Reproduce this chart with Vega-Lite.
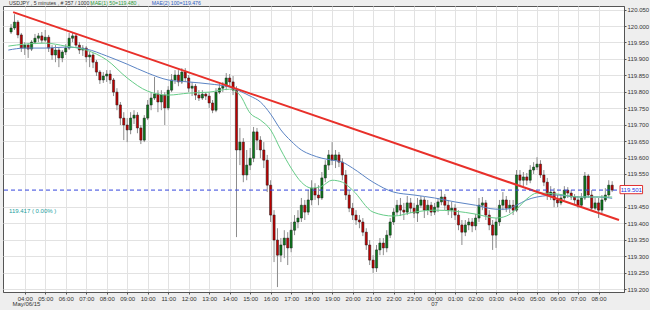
{
"$schema": "https://vega.github.io/schema/vega-lite/v6.json",
"width": 621, "height": 286,
"autosize": "none",
"padding": {"left": 3, "top": 6, "right": 26, "bottom": 18},
"background": "#eeeeee",
"config": {
  "view": {"fill": "#ffffff", "stroke": "#555555", "strokeWidth": 1},
  "font": "Liberation Sans",
  "axis": {"labelFont": "Liberation Sans", "labelFontSize": 6, "labelColor": "#333333", "gridColor": "#e2e2e2", "gridWidth": 1, "domainColor": "#555555", "tickColor": "#555555", "tickSize": 2}
},
"resolve": {"axis": {"x": "independent", "y": "independent"}},
"datasets": {
"candles": [
{"t":"2015-05-06T03:20","o":119.982,"h":120.006,"l":119.976,"c":119.994},
{"t":"2015-05-06T03:30","o":119.994,"h":120.036,"l":119.988,"c":120.012},
{"t":"2015-05-06T03:40","o":120.012,"h":120.018,"l":119.963,"c":119.973},
{"t":"2015-05-06T03:50","o":119.973,"h":119.979,"l":119.921,"c":119.933},
{"t":"2015-05-06T04:00","o":119.933,"h":119.951,"l":119.912,"c":119.942},
{"t":"2015-05-06T04:10","o":119.942,"h":119.948,"l":119.903,"c":119.930},
{"t":"2015-05-06T04:20","o":119.930,"h":119.957,"l":119.924,"c":119.951},
{"t":"2015-05-06T04:30","o":119.951,"h":119.976,"l":119.945,"c":119.963},
{"t":"2015-05-06T04:40","o":119.963,"h":119.979,"l":119.951,"c":119.970},
{"t":"2015-05-06T04:50","o":119.970,"h":119.982,"l":119.948,"c":119.957},
{"t":"2015-05-06T05:00","o":119.957,"h":119.988,"l":119.951,"c":119.966},
{"t":"2015-05-06T05:10","o":119.966,"h":119.973,"l":119.921,"c":119.933},
{"t":"2015-05-06T05:20","o":119.933,"h":119.942,"l":119.897,"c":119.912},
{"t":"2015-05-06T05:30","o":119.912,"h":119.942,"l":119.890,"c":119.927},
{"t":"2015-05-06T05:40","o":119.927,"h":119.936,"l":119.875,"c":119.903},
{"t":"2015-05-06T05:50","o":119.903,"h":119.927,"l":119.890,"c":119.921},
{"t":"2015-05-06T06:00","o":119.921,"h":119.945,"l":119.912,"c":119.933},
{"t":"2015-05-06T06:10","o":119.933,"h":119.979,"l":119.927,"c":119.963},
{"t":"2015-05-06T06:20","o":119.963,"h":119.982,"l":119.951,"c":119.970},
{"t":"2015-05-06T06:30","o":119.970,"h":119.979,"l":119.933,"c":119.942},
{"t":"2015-05-06T06:40","o":119.942,"h":119.951,"l":119.915,"c":119.927},
{"t":"2015-05-06T06:50","o":119.927,"h":119.942,"l":119.909,"c":119.933},
{"t":"2015-05-06T07:00","o":119.933,"h":119.939,"l":119.890,"c":119.906},
{"t":"2015-05-06T07:10","o":119.906,"h":119.921,"l":119.875,"c":119.912},
{"t":"2015-05-06T07:20","o":119.912,"h":119.918,"l":119.872,"c":119.890},
{"t":"2015-05-06T07:30","o":119.890,"h":119.897,"l":119.848,"c":119.860},
{"t":"2015-05-06T07:40","o":119.860,"h":119.866,"l":119.824,"c":119.836},
{"t":"2015-05-06T07:50","o":119.836,"h":119.860,"l":119.827,"c":119.848},
{"t":"2015-05-06T08:00","o":119.848,"h":119.866,"l":119.830,"c":119.854},
{"t":"2015-05-06T08:10","o":119.854,"h":119.866,"l":119.824,"c":119.836},
{"t":"2015-05-06T08:20","o":119.836,"h":119.842,"l":119.787,"c":119.799},
{"t":"2015-05-06T08:30","o":119.799,"h":119.811,"l":119.744,"c":119.760},
{"t":"2015-05-06T08:40","o":119.760,"h":119.769,"l":119.699,"c":119.720},
{"t":"2015-05-06T08:50","o":119.720,"h":119.738,"l":119.653,"c":119.699},
{"t":"2015-05-06T09:00","o":119.699,"h":119.720,"l":119.647,"c":119.684},
{"t":"2015-05-06T09:10","o":119.684,"h":119.738,"l":119.671,"c":119.720},
{"t":"2015-05-06T09:20","o":119.720,"h":119.744,"l":119.702,"c":119.729},
{"t":"2015-05-06T09:30","o":119.729,"h":119.738,"l":119.674,"c":119.690},
{"t":"2015-05-06T09:40","o":119.690,"h":119.699,"l":119.641,"c":119.653},
{"t":"2015-05-06T09:50","o":119.653,"h":119.729,"l":119.647,"c":119.720},
{"t":"2015-05-06T10:00","o":119.720,"h":119.775,"l":119.714,"c":119.760},
{"t":"2015-05-06T10:10","o":119.760,"h":119.799,"l":119.744,"c":119.781},
{"t":"2015-05-06T10:20","o":119.781,"h":119.845,"l":119.775,"c":119.793},
{"t":"2015-05-06T10:30","o":119.793,"h":119.805,"l":119.738,"c":119.769},
{"t":"2015-05-06T10:40","o":119.769,"h":119.805,"l":119.744,"c":119.790},
{"t":"2015-05-06T10:50","o":119.790,"h":119.799,"l":119.699,"c":119.751},
{"t":"2015-05-06T11:00","o":119.751,"h":119.817,"l":119.744,"c":119.805},
{"t":"2015-05-06T11:10","o":119.805,"h":119.854,"l":119.799,"c":119.836},
{"t":"2015-05-06T11:20","o":119.836,"h":119.866,"l":119.824,"c":119.851},
{"t":"2015-05-06T11:30","o":119.851,"h":119.866,"l":119.817,"c":119.830},
{"t":"2015-05-06T11:40","o":119.830,"h":119.872,"l":119.824,"c":119.860},
{"t":"2015-05-06T11:50","o":119.860,"h":119.872,"l":119.830,"c":119.842},
{"t":"2015-05-06T12:00","o":119.842,"h":119.851,"l":119.799,"c":119.811},
{"t":"2015-05-06T12:10","o":119.811,"h":119.830,"l":119.787,"c":119.817},
{"t":"2015-05-06T12:20","o":119.817,"h":119.824,"l":119.775,"c":119.790},
{"t":"2015-05-06T12:30","o":119.790,"h":119.805,"l":119.772,"c":119.781},
{"t":"2015-05-06T12:40","o":119.781,"h":119.805,"l":119.775,"c":119.793},
{"t":"2015-05-06T12:50","o":119.793,"h":119.799,"l":119.775,"c":119.787},
{"t":"2015-05-06T13:00","o":119.787,"h":119.799,"l":119.751,"c":119.766},
{"t":"2015-05-06T13:10","o":119.766,"h":119.775,"l":119.735,"c":119.744},
{"t":"2015-05-06T13:20","o":119.744,"h":119.811,"l":119.738,"c":119.799},
{"t":"2015-05-06T13:30","o":119.799,"h":119.824,"l":119.793,"c":119.811},
{"t":"2015-05-06T13:40","o":119.811,"h":119.830,"l":119.799,"c":119.817},
{"t":"2015-05-06T13:50","o":119.817,"h":119.857,"l":119.805,"c":119.842},
{"t":"2015-05-06T14:00","o":119.842,"h":119.854,"l":119.817,"c":119.830},
{"t":"2015-05-06T14:10","o":119.830,"h":119.848,"l":119.790,"c":119.805},
{"t":"2015-05-06T14:20","o":119.805,"h":119.817,"l":119.358,"c":119.623},
{"t":"2015-05-06T14:30","o":119.623,"h":119.690,"l":119.577,"c":119.647},
{"t":"2015-05-06T14:40","o":119.647,"h":119.659,"l":119.525,"c":119.547},
{"t":"2015-05-06T14:50","o":119.547,"h":119.623,"l":119.531,"c":119.577},
{"t":"2015-05-06T15:00","o":119.577,"h":119.629,"l":119.562,"c":119.598},
{"t":"2015-05-06T15:10","o":119.598,"h":119.693,"l":119.586,"c":119.678},
{"t":"2015-05-06T15:20","o":119.678,"h":119.690,"l":119.623,"c":119.653},
{"t":"2015-05-06T15:30","o":119.653,"h":119.665,"l":119.598,"c":119.623},
{"t":"2015-05-06T15:40","o":119.623,"h":119.647,"l":119.568,"c":119.592},
{"t":"2015-05-06T15:50","o":119.592,"h":119.608,"l":119.495,"c":119.516},
{"t":"2015-05-06T16:00","o":119.516,"h":119.531,"l":119.404,"c":119.425},
{"t":"2015-05-06T16:10","o":119.425,"h":119.440,"l":119.282,"c":119.349},
{"t":"2015-05-06T16:20","o":119.349,"h":119.385,"l":119.206,"c":119.303},
{"t":"2015-05-06T16:30","o":119.303,"h":119.355,"l":119.282,"c":119.334},
{"t":"2015-05-06T16:40","o":119.334,"h":119.379,"l":119.294,"c":119.355},
{"t":"2015-05-06T16:50","o":119.355,"h":119.373,"l":119.273,"c":119.325},
{"t":"2015-05-06T17:00","o":119.325,"h":119.404,"l":119.312,"c":119.379},
{"t":"2015-05-06T17:10","o":119.379,"h":119.425,"l":119.364,"c":119.404},
{"t":"2015-05-06T17:20","o":119.404,"h":119.440,"l":119.385,"c":119.416},
{"t":"2015-05-06T17:30","o":119.416,"h":119.477,"l":119.404,"c":119.455},
{"t":"2015-05-06T17:40","o":119.455,"h":119.471,"l":119.410,"c":119.434},
{"t":"2015-05-06T17:50","o":119.434,"h":119.501,"l":119.425,"c":119.471},
{"t":"2015-05-06T18:00","o":119.471,"h":119.531,"l":119.455,"c":119.507},
{"t":"2015-05-06T18:10","o":119.507,"h":119.522,"l":119.471,"c":119.486},
{"t":"2015-05-06T18:20","o":119.486,"h":119.516,"l":119.455,"c":119.477},
{"t":"2015-05-06T18:30","o":119.477,"h":119.556,"l":119.471,"c":119.538},
{"t":"2015-05-06T18:40","o":119.538,"h":119.592,"l":119.525,"c":119.577},
{"t":"2015-05-06T18:50","o":119.577,"h":119.623,"l":119.562,"c":119.608},
{"t":"2015-05-06T19:00","o":119.608,"h":119.647,"l":119.577,"c":119.592},
{"t":"2015-05-06T19:10","o":119.592,"h":119.623,"l":119.568,"c":119.608},
{"t":"2015-05-06T19:20","o":119.608,"h":119.617,"l":119.571,"c":119.586},
{"t":"2015-05-06T19:30","o":119.586,"h":119.598,"l":119.531,"c":119.547},
{"t":"2015-05-06T19:40","o":119.547,"h":119.562,"l":119.471,"c":119.486},
{"t":"2015-05-06T19:50","o":119.486,"h":119.501,"l":119.434,"c":119.446},
{"t":"2015-05-06T20:00","o":119.446,"h":119.462,"l":119.410,"c":119.425},
{"t":"2015-05-06T20:10","o":119.425,"h":119.440,"l":119.395,"c":119.410},
{"t":"2015-05-06T20:20","o":119.410,"h":119.425,"l":119.385,"c":119.404},
{"t":"2015-05-06T20:30","o":119.404,"h":119.416,"l":119.361,"c":119.373},
{"t":"2015-05-06T20:40","o":119.373,"h":119.385,"l":119.319,"c":119.334},
{"t":"2015-05-06T20:50","o":119.334,"h":119.349,"l":119.273,"c":119.288},
{"t":"2015-05-06T21:00","o":119.288,"h":119.303,"l":119.249,"c":119.264},
{"t":"2015-05-06T21:10","o":119.264,"h":119.334,"l":119.252,"c":119.319},
{"t":"2015-05-06T21:20","o":119.319,"h":119.355,"l":119.303,"c":119.340},
{"t":"2015-05-06T21:30","o":119.340,"h":119.355,"l":119.303,"c":119.325},
{"t":"2015-05-06T21:40","o":119.325,"h":119.379,"l":119.312,"c":119.364},
{"t":"2015-05-06T21:50","o":119.364,"h":119.416,"l":119.355,"c":119.404},
{"t":"2015-05-06T22:00","o":119.404,"h":119.446,"l":119.395,"c":119.434},
{"t":"2015-05-06T22:10","o":119.434,"h":119.471,"l":119.425,"c":119.455},
{"t":"2015-05-06T22:20","o":119.455,"h":119.477,"l":119.422,"c":119.440},
{"t":"2015-05-06T22:30","o":119.440,"h":119.462,"l":119.410,"c":119.434},
{"t":"2015-05-06T22:40","o":119.434,"h":119.483,"l":119.425,"c":119.462},
{"t":"2015-05-06T22:50","o":119.462,"h":119.477,"l":119.431,"c":119.446},
{"t":"2015-05-06T23:00","o":119.446,"h":119.462,"l":119.416,"c":119.431},
{"t":"2015-05-06T23:10","o":119.431,"h":119.477,"l":119.404,"c":119.455},
{"t":"2015-05-06T23:20","o":119.455,"h":119.483,"l":119.446,"c":119.471},
{"t":"2015-05-06T23:30","o":119.471,"h":119.480,"l":119.416,"c":119.440},
{"t":"2015-05-06T23:40","o":119.440,"h":119.471,"l":119.425,"c":119.455},
{"t":"2015-05-06T23:50","o":119.455,"h":119.465,"l":119.422,"c":119.434},
{"t":"2015-05-07T00:00","o":119.434,"h":119.462,"l":119.425,"c":119.449},
{"t":"2015-05-07T00:10","o":119.449,"h":119.477,"l":119.434,"c":119.465},
{"t":"2015-05-07T00:20","o":119.465,"h":119.501,"l":119.455,"c":119.480},
{"t":"2015-05-07T00:30","o":119.480,"h":119.489,"l":119.440,"c":119.455},
{"t":"2015-05-07T00:40","o":119.455,"h":119.471,"l":119.425,"c":119.440},
{"t":"2015-05-07T00:50","o":119.440,"h":119.465,"l":119.416,"c":119.446},
{"t":"2015-05-07T01:00","o":119.446,"h":119.458,"l":119.410,"c":119.425},
{"t":"2015-05-07T01:10","o":119.425,"h":119.440,"l":119.379,"c":119.395},
{"t":"2015-05-07T01:20","o":119.395,"h":119.410,"l":119.334,"c":119.373},
{"t":"2015-05-07T01:30","o":119.373,"h":119.410,"l":119.361,"c":119.395},
{"t":"2015-05-07T01:40","o":119.395,"h":119.416,"l":119.379,"c":119.404},
{"t":"2015-05-07T01:50","o":119.404,"h":119.416,"l":119.373,"c":119.392},
{"t":"2015-05-07T02:00","o":119.392,"h":119.428,"l":119.379,"c":119.416},
{"t":"2015-05-07T02:10","o":119.416,"h":119.477,"l":119.404,"c":119.455},
{"t":"2015-05-07T02:20","o":119.455,"h":119.480,"l":119.440,"c":119.462},
{"t":"2015-05-07T02:30","o":119.462,"h":119.471,"l":119.410,"c":119.425},
{"t":"2015-05-07T02:40","o":119.425,"h":119.440,"l":119.379,"c":119.395},
{"t":"2015-05-07T02:50","o":119.395,"h":119.410,"l":119.319,"c":119.364},
{"t":"2015-05-07T03:00","o":119.364,"h":119.416,"l":119.325,"c":119.404},
{"t":"2015-05-07T03:10","o":119.404,"h":119.471,"l":119.392,"c":119.455},
{"t":"2015-05-07T03:20","o":119.455,"h":119.495,"l":119.440,"c":119.471},
{"t":"2015-05-07T03:30","o":119.471,"h":119.483,"l":119.434,"c":119.446},
{"t":"2015-05-07T03:40","o":119.446,"h":119.471,"l":119.431,"c":119.455},
{"t":"2015-05-07T03:50","o":119.455,"h":119.471,"l":119.425,"c":119.440},
{"t":"2015-05-07T04:00","o":119.440,"h":119.562,"l":119.434,"c":119.547},
{"t":"2015-05-07T04:10","o":119.547,"h":119.562,"l":119.516,"c":119.531},
{"t":"2015-05-07T04:20","o":119.531,"h":119.556,"l":119.513,"c":119.541},
{"t":"2015-05-07T04:30","o":119.541,"h":119.553,"l":119.516,"c":119.531},
{"t":"2015-05-07T04:40","o":119.531,"h":119.577,"l":119.522,"c":119.562},
{"t":"2015-05-07T04:50","o":119.562,"h":119.586,"l":119.550,"c":119.571},
{"t":"2015-05-07T05:00","o":119.571,"h":119.601,"l":119.562,"c":119.580},
{"t":"2015-05-07T05:10","o":119.580,"h":119.592,"l":119.538,"c":119.547},
{"t":"2015-05-07T05:20","o":119.547,"h":119.562,"l":119.513,"c":119.525},
{"t":"2015-05-07T05:30","o":119.525,"h":119.538,"l":119.471,"c":119.486},
{"t":"2015-05-07T05:40","o":119.486,"h":119.513,"l":119.471,"c":119.495},
{"t":"2015-05-07T05:50","o":119.495,"h":119.507,"l":119.449,"c":119.471},
{"t":"2015-05-07T06:00","o":119.471,"h":119.486,"l":119.449,"c":119.462},
{"t":"2015-05-07T06:10","o":119.462,"h":119.486,"l":119.455,"c":119.477},
{"t":"2015-05-07T06:20","o":119.477,"h":119.513,"l":119.471,"c":119.501},
{"t":"2015-05-07T06:30","o":119.501,"h":119.510,"l":119.477,"c":119.492},
{"t":"2015-05-07T06:40","o":119.492,"h":119.501,"l":119.471,"c":119.480},
{"t":"2015-05-07T06:50","o":119.480,"h":119.489,"l":119.458,"c":119.471},
{"t":"2015-05-07T07:00","o":119.471,"h":119.483,"l":119.446,"c":119.455},
{"t":"2015-05-07T07:10","o":119.455,"h":119.492,"l":119.449,"c":119.477},
{"t":"2015-05-07T07:20","o":119.477,"h":119.556,"l":119.471,"c":119.544},
{"t":"2015-05-07T07:30","o":119.544,"h":119.550,"l":119.477,"c":119.486},
{"t":"2015-05-07T07:40","o":119.486,"h":119.501,"l":119.440,"c":119.446},
{"t":"2015-05-07T07:50","o":119.446,"h":119.477,"l":119.440,"c":119.462},
{"t":"2015-05-07T08:00","o":119.462,"h":119.477,"l":119.416,"c":119.440},
{"t":"2015-05-07T08:10","o":119.440,"h":119.486,"l":119.431,"c":119.471},
{"t":"2015-05-07T08:20","o":119.471,"h":119.507,"l":119.465,"c":119.486},
{"t":"2015-05-07T08:30","o":119.486,"h":119.531,"l":119.477,"c":119.516},
{"t":"2015-05-07T08:40","o":119.516,"h":119.528,"l":119.495,"c":119.501}
],
"ma": [
{"t":"2015-05-06T03:12","b":119.927,"g":119.939},
{"t":"2015-05-06T04:00","b":119.933,"g":119.945},
{"t":"2015-05-06T05:00","b":119.933,"g":119.948},
{"t":"2015-05-06T06:00","b":119.936,"g":119.939},
{"t":"2015-05-06T07:00","b":119.930,"g":119.927},
{"t":"2015-05-06T08:00","b":119.909,"g":119.897},
{"t":"2015-05-06T09:00","b":119.884,"g":119.842},
{"t":"2015-05-06T10:00","b":119.857,"g":119.802},
{"t":"2015-05-06T11:00","b":119.836,"g":119.790},
{"t":"2015-05-06T12:00","b":119.830,"g":119.796},
{"t":"2015-05-06T13:00","b":119.824,"g":119.799},
{"t":"2015-05-06T14:00","b":119.814,"g":119.808},
{"t":"2015-05-06T14:30","b":119.802,"g":119.790},
{"t":"2015-05-06T15:00","b":119.787,"g":119.735},
{"t":"2015-05-06T15:30","b":119.769,"g":119.714},
{"t":"2015-05-06T16:00","b":119.732,"g":119.684},
{"t":"2015-05-06T16:30","b":119.684,"g":119.623},
{"t":"2015-05-06T17:00","b":119.650,"g":119.568},
{"t":"2015-05-06T17:30","b":119.623,"g":119.525},
{"t":"2015-05-06T18:00","b":119.608,"g":119.507},
{"t":"2015-05-06T18:30","b":119.598,"g":119.513},
{"t":"2015-05-06T19:00","b":119.592,"g":119.531},
{"t":"2015-05-06T19:30","b":119.586,"g":119.525},
{"t":"2015-05-06T20:00","b":119.568,"g":119.501},
{"t":"2015-05-06T21:00","b":119.525,"g":119.434},
{"t":"2015-05-06T22:00","b":119.495,"g":119.422},
{"t":"2015-05-06T23:00","b":119.486,"g":119.434},
{"t":"2015-05-07T00:00","b":119.477,"g":119.440},
{"t":"2015-05-07T01:00","b":119.465,"g":119.437},
{"t":"2015-05-07T02:00","b":119.455,"g":119.428},
{"t":"2015-05-07T03:00","b":119.443,"g":119.416},
{"t":"2015-05-07T03:30","b":119.443,"g":119.422},
{"t":"2015-05-07T04:00","b":119.455,"g":119.443},
{"t":"2015-05-07T04:30","b":119.471,"g":119.474},
{"t":"2015-05-07T05:00","b":119.480,"g":119.492},
{"t":"2015-05-07T06:00","b":119.486,"g":119.489},
{"t":"2015-05-07T07:00","b":119.480,"g":119.480},
{"t":"2015-05-07T08:00","b":119.480,"g":119.480},
{"t":"2015-05-07T08:40","b":119.476,"g":119.480}
],
"trend": [
{"t":"2015-05-06T03:26","p":120.0425},
{"t":"2015-05-07T09:00","p":119.410}
]
},
"layer": [
{
  "data": {"name": "candles"},
  "mark": {"type": "rule", "color": "#8c8c8c", "strokeWidth": 1},
  "encoding": {
    "x": {"field": "t", "type": "temporal",
      "scale": {"domain": [{"year":2015,"month":5,"date":6,"hours":3,"minutes":11},{"year":2015,"month":5,"date":7,"hours":9,"minutes":0}], "nice": false},
      "axis": {"orient": "bottom", "title": null, "grid": true, "format": "%H:%M", "labelOverlap": false, "labelFlush": false, "labelPadding": 1,
        "values": [
          {"year":2015,"month":5,"date":6,"hours":4},{"year":2015,"month":5,"date":6,"hours":5},{"year":2015,"month":5,"date":6,"hours":6},
          {"year":2015,"month":5,"date":6,"hours":7},{"year":2015,"month":5,"date":6,"hours":8},{"year":2015,"month":5,"date":6,"hours":9},
          {"year":2015,"month":5,"date":6,"hours":10},{"year":2015,"month":5,"date":6,"hours":11},{"year":2015,"month":5,"date":6,"hours":12},
          {"year":2015,"month":5,"date":6,"hours":13},{"year":2015,"month":5,"date":6,"hours":14},{"year":2015,"month":5,"date":6,"hours":15},
          {"year":2015,"month":5,"date":6,"hours":16},{"year":2015,"month":5,"date":6,"hours":17},{"year":2015,"month":5,"date":6,"hours":18},
          {"year":2015,"month":5,"date":6,"hours":19},{"year":2015,"month":5,"date":6,"hours":20},{"year":2015,"month":5,"date":6,"hours":21},
          {"year":2015,"month":5,"date":6,"hours":22},{"year":2015,"month":5,"date":6,"hours":23},{"year":2015,"month":5,"date":7,"hours":0},
          {"year":2015,"month":5,"date":7,"hours":1},{"year":2015,"month":5,"date":7,"hours":2},{"year":2015,"month":5,"date":7,"hours":3},
          {"year":2015,"month":5,"date":7,"hours":4},{"year":2015,"month":5,"date":7,"hours":5},{"year":2015,"month":5,"date":7,"hours":6},
          {"year":2015,"month":5,"date":7,"hours":7},{"year":2015,"month":5,"date":7,"hours":8}
        ]}},
    "y": {"field": "l", "type": "quantitative",
      "scale": {"domain": [119.191, 120.061], "nice": false, "zero": false},
      "axis": {"orient": "right", "title": null, "grid": true, "values": [119.2,119.25,119.3,119.35,119.4,119.45,119.55,119.6,119.65,119.7,119.75,119.8,119.85,119.9,119.95,120.0,120.05], "format": ".3f", "labelOverlap": false, "labelFlush": false, "labelPadding": 1}},
    "y2": {"field": "h"}
  }
},
{
  "data": {"name": "candles"},
  "mark": {"type": "bar", "size": 2.2, "stroke": "#1a1a1a", "strokeWidth": 0.5},
  "encoding": {
    "x": {"field": "t", "type": "temporal", "axis": null},
    "y": {"field": "o", "type": "quantitative", "axis": null},
    "y2": {"field": "c"},
    "color": {"condition": {"test": "datum.c >= datum.o", "value": "#0a7a1a"}, "value": "#c00000"}
  }
},
{
  "data": {"name": "ma"},
  "mark": {"type": "line", "color": "#5b84c4", "strokeWidth": 1, "interpolate": "monotone"},
  "encoding": {
    "x": {"field": "t", "type": "temporal", "axis": null},
    "y": {"field": "b", "type": "quantitative", "axis": null}
  }
},
{
  "data": {"name": "ma"},
  "mark": {"type": "line", "color": "#66cc88", "strokeWidth": 1, "interpolate": "monotone"},
  "encoding": {
    "x": {"field": "t", "type": "temporal", "axis": null},
    "y": {"field": "g", "type": "quantitative", "axis": null}
  }
},
{
  "data": {"name": "trend"},
  "mark": {"type": "line", "color": "#e8302a", "strokeWidth": 2},
  "encoding": {
    "x": {"field": "t", "type": "temporal", "axis": null},
    "y": {"field": "p", "type": "quantitative", "axis": null}
  }
},
{
  "data": {"values": [{}]},
  "mark": {"type": "rule", "color": "#3344dd", "strokeWidth": 1, "strokeDash": [4, 3]},
  "encoding": {"y": {"datum": 119.501, "type": "quantitative", "axis": null}}
},
{
  "data": {"values": [{}]},
  "mark": {"type": "rect", "fill": "#ffffff", "stroke": "#e03030", "strokeWidth": 1},
  "encoding": {
    "x": {"datum": {"year":2015,"month":5,"date":7,"hours":9,"minutes":3}, "type": "temporal", "axis": null},
    "x2": {"datum": {"year":2015,"month":5,"date":7,"hours":10,"minutes":9}},
    "y": {"datum": 119.515, "type": "quantitative", "axis": null},
    "y2": {"datum": 119.490}
  }
},
{
  "data": {"values": [{}]},
  "mark": {"type": "text", "text": "119.501", "color": "#2030e0", "fontSize": 6, "align": "center", "baseline": "middle"},
  "encoding": {
    "x": {"datum": {"year":2015,"month":5,"date":7,"hours":9,"minutes":36}, "type": "temporal", "axis": null},
    "y": {"datum": 119.5025, "type": "quantitative", "axis": null}
  }
},
{
  "data": {"values": [{}]},
  "mark": {"type": "text", "text": "119.417 ( 0.00% )", "color": "#20a0a0", "fontSize": 6, "align": "left", "baseline": "middle", "dx": 1},
  "encoding": {
    "x": {"datum": {"year":2015,"month":5,"date":6,"hours":3,"minutes":11}, "type": "temporal", "axis": null},
    "y": {"datum": 119.437, "type": "quantitative", "axis": null}
  }
},
{
  "data": {"values": [{}]},
  "mark": {"type": "text", "text": "May/06/15", "color": "#333333", "fontSize": 6, "align": "center", "baseline": "middle"},
  "encoding": {
    "x": {"datum": {"year":2015,"month":5,"date":6,"hours":4,"minutes":5}, "type": "temporal", "axis": null},
    "y": {"datum": 119.1545, "type": "quantitative", "axis": null}
  }
},
{
  "data": {"values": [{}]},
  "mark": {"type": "text", "text": "07", "color": "#333333", "fontSize": 6, "align": "center", "baseline": "middle"},
  "encoding": {
    "x": {"datum": {"year":2015,"month":5,"date":7,"hours":0,"minutes":0}, "type": "temporal", "axis": null},
    "y": {"datum": 119.1545, "type": "quantitative", "axis": null}
  }
},
{
  "data": {"values": [{}]},
  "mark": {"type": "text", "text": "USDJPY , 5 minutes , # 357 / 1000 ,", "color": "#333333", "fontSize": 5.2, "align": "left", "baseline": "alphabetic", "dx": 1},
  "encoding": {
    "x": {"datum": {"year":2015,"month":5,"date":6,"hours":3,"minutes":11}, "type": "temporal", "axis": null},
    "y": {"datum": 120.063, "type": "quantitative", "axis": null}
  }
},
{
  "data": {"values": [{}]},
  "mark": {"type": "text", "text": "MAE(1) 50=119.480 ,", "color": "#2a9a3a", "fontSize": 5.2, "align": "left", "baseline": "alphabetic"},
  "encoding": {
    "x": {"datum": {"year":2015,"month":5,"date":6,"hours":7,"minutes":12}, "type": "temporal", "axis": null},
    "y": {"datum": 120.063, "type": "quantitative", "axis": null}
  }
},
{
  "data": {"values": [{}]},
  "mark": {"type": "text", "text": "MAE(2) 100=119.476", "color": "#3060c0", "fontSize": 5.2, "align": "left", "baseline": "alphabetic"},
  "encoding": {
    "x": {"datum": {"year":2015,"month":5,"date":6,"hours":10,"minutes":12}, "type": "temporal", "axis": null},
    "y": {"datum": 120.063, "type": "quantitative", "axis": null}
  }
}
]
}
